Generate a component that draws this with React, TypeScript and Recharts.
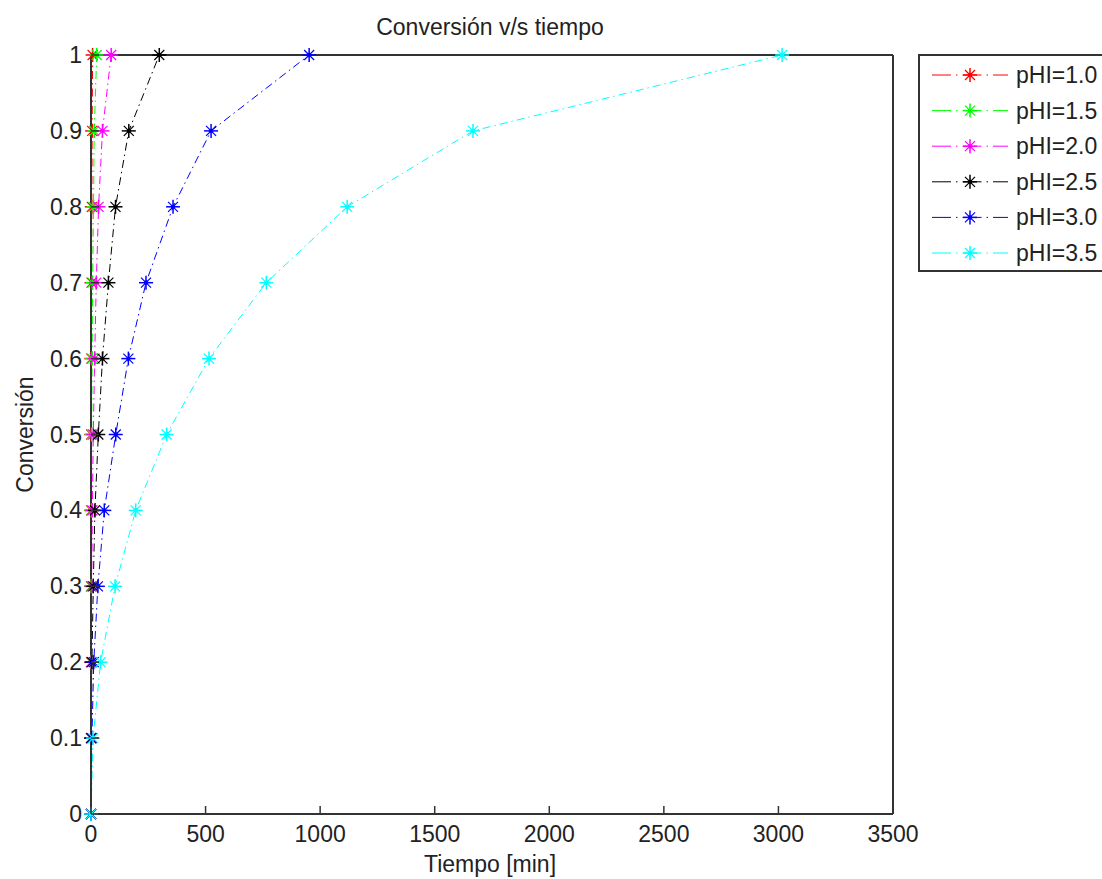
import React from 'react';
import { LineChart, Line, XAxis, YAxis } from 'recharts';

// ---- Data ----
const conversion = [0, 0.1, 0.2, 0.3, 0.4, 0.5, 0.6, 0.7, 0.8, 0.9, 1.0];
const timePH10 = [0, 0, 0.1, 0.3, 0.6, 1, 1.6, 2.4, 3.5, 5, 7];
const timePH15 = [0, 0.1, 0.4, 1, 2, 3, 5, 7, 11, 14, 25];
const timePH20 = [0, 0.3, 1.3, 3, 6, 10, 16, 23, 33, 50, 88];
const timePH25 = [0, 1, 4, 10, 17, 32, 50, 76, 107, 165, 298];
const timePH30 = [0, 4, 12, 30, 58, 108, 163, 240, 358, 524, 952];
const timePH35 = [0, 9, 42, 105, 195, 330, 515, 765, 1118, 1667, 3016];

const seriesNames = ['pHI=1.0', 'pHI=1.5', 'pHI=2.0', 'pHI=2.5', 'pHI=3.0', 'pHI=3.5'];
const seriesColors = ['#ff0000', '#00ff00', '#ff00ff', '#000000', '#0000ff', '#00ffff'];
const seriesTimes = [timePH10, timePH15, timePH20, timePH25, timePH30, timePH35];

const xTicks = [0, 500, 1000, 1500, 2000, 2500, 3000, 3500];
const yTicks = [0, 0.1, 0.2, 0.3, 0.4, 0.5, 0.6, 0.7, 0.8, 0.9, 1];
const yTickLabels = ['0', '0.1', '0.2', '0.3', '0.4', '0.5', '0.6', '0.7', '0.8', '0.9', '1'];

const titleText = 'Conversión v/s tiempo';
const xLabelText = 'Tiempo [min]';
const yLabelText = 'Conversión';

// ---- Layout ----
const W = 1102;
const H = 879;
const L = 91;
const R = 893;
const T = 55;
const B = 814;
const FONT = 'Liberation Sans, Arial, sans-serif';
const FS = 23;
const AXIS = '#333';
const TICK = 8;
const DASH = '8 4 1.5 4';
const Y_AXIS_W = 60;
const X_AXIS_H = 40;

const seriesData = seriesTimes.map((times) =>
  times.map((t, i) => ({ x: t, y: conversion[i] }))
);

function Star({ cx, cy, color }: { cx: number; cy: number; color: string }) {
  if (cx == null || cy == null || isNaN(cx) || isNaN(cy)) return null;
  const r = 7;
  const d = 5;
  return (
    <g>
      <line x1={cx - r} x2={cx + r} y1={cy} y2={cy} stroke={color} strokeWidth={1.5} />
      <line x1={cx} x2={cx} y1={cy - r} y2={cy + r} stroke={color} strokeWidth={1.5} />
      <line x1={cx - d} x2={cx + d} y1={cy - d} y2={cy + d} stroke={color} strokeWidth={1.2} />
      <line x1={cx - d} x2={cx + d} y1={cy + d} y2={cy - d} stroke={color} strokeWidth={1.2} />
      <circle cx={cx} cy={cy} r={2.2} fill={color} />
    </g>
  );
}

const BottomTick = (props: any) => {
  const { x, payload } = props;
  return (
    <g>
      <line x1={x} x2={x} y1={B} y2={B - TICK} stroke={AXIS} strokeWidth={1.5} />
      <text x={x} y={B + 28} textAnchor="middle" fontFamily={FONT} fontSize={FS} fill="#222">
        {payload.value}
      </text>
    </g>
  );
};

const TopTick = (props: any) => {
  const { x } = props;
  return <line x1={x} x2={x} y1={T} y2={T + TICK} stroke={AXIS} strokeWidth={1.5} />;
};

const LeftTick = (props: any) => {
  const { y, payload } = props;
  const idx = yTicks.findIndex((v) => Math.abs(v - payload.value) < 1e-9);
  return (
    <g>
      <line x1={L} x2={L + TICK} y1={y} y2={y} stroke={AXIS} strokeWidth={1.5} />
      <text x={82} y={y + 8} textAnchor="end" fontFamily={FONT} fontSize={FS} fill="#222">
        {idx >= 0 ? yTickLabels[idx] : payload.value}
      </text>
    </g>
  );
};

const RightTick = (props: any) => {
  const { y } = props;
  return <line x1={R} x2={R - TICK} y1={y} y2={y} stroke={AXIS} strokeWidth={1.5} />;
};

export default function App() {
  const legendTop = 55;
  const legendStep = 35.6;
  return (
    <div style={{ position: 'absolute', left: 0, top: 0, width: W, height: H, background: '#fff' }}>
      <LineChart
        width={W}
        height={H}
        margin={{ top: T - 1, right: W - R - 1, bottom: H - B - X_AXIS_H, left: L - Y_AXIS_W }}
      >
        <XAxis
          xAxisId="b"
          dataKey="x"
          type="number"
          domain={[0, 3500]}
          ticks={xTicks}
          interval={0}
          height={X_AXIS_H}
          tickSize={0}
          tickLine={false}
          axisLine={{ stroke: AXIS, strokeWidth: 2 }}
          tick={BottomTick}
        />
        <XAxis
          xAxisId="t"
          orientation="top"
          dataKey="x"
          type="number"
          domain={[0, 3500]}
          ticks={xTicks}
          interval={0}
          height={1}
          tickSize={0}
          tickLine={false}
          axisLine={{ stroke: AXIS, strokeWidth: 2 }}
          tick={TopTick}
        />
        <YAxis
          yAxisId="l"
          type="number"
          domain={[0, 1]}
          ticks={yTicks}
          interval={0}
          width={Y_AXIS_W}
          tickSize={0}
          tickLine={false}
          axisLine={{ stroke: AXIS, strokeWidth: 2 }}
          tick={LeftTick}
        />
        <YAxis
          yAxisId="r"
          orientation="right"
          type="number"
          domain={[0, 1]}
          ticks={yTicks}
          interval={0}
          width={1}
          tickSize={0}
          tickLine={false}
          axisLine={{ stroke: AXIS, strokeWidth: 2 }}
          tick={RightTick}
        />
        {seriesData.map((data, i) => (
          <Line
            key={seriesNames[i]}
            xAxisId="b"
            yAxisId="l"
            data={data}
            dataKey="y"
            name={seriesNames[i]}
            type="linear"
            stroke={seriesColors[i]}
            strokeWidth={1}
            strokeDasharray={DASH}
            isAnimationActive={false}
            dot={(p: any) => <Star key={`s${i}-${p.index}`} cx={p.cx} cy={p.cy} color={seriesColors[i]} />}
            activeDot={false}
          />
        ))}
      </LineChart>
      <svg
        width={W}
        height={H}
        style={{ position: 'absolute', left: 0, top: 0, pointerEvents: 'none' }}
      >
        <text x={490} y={35} textAnchor="middle" fontFamily={FONT} fontSize={FS} fill="#222">
          {titleText}
        </text>
        <text x={490} y={872} textAnchor="middle" fontFamily={FONT} fontSize={FS} fill="#222">
          {xLabelText}
        </text>
        <text
          x={0}
          y={0}
          transform={`translate(33, 434.5) rotate(-90)`}
          textAnchor="middle"
          fontFamily={FONT}
          fontSize={FS}
          fill="#222"
        >
          {yLabelText}
        </text>
        <rect x={919} y={legendTop} width={200} height={216} fill="#fff" stroke={AXIS} strokeWidth={2} />
        {seriesNames.map((name, i) => {
          const y = legendTop + 20 + i * legendStep;
          return (
            <g key={name}>
              <line x1={932} x2={1008} y1={y} y2={y} stroke={seriesColors[i]} strokeWidth={1} strokeDasharray="19 5 1.5 5" />
              <Star cx={970} cy={y} color={seriesColors[i]} />
              <text x={1016} y={y + 8} fontFamily={FONT} fontSize={FS} fill="#222">
                {name}
              </text>
            </g>
          );
        })}
      </svg>
    </div>
  );
}
